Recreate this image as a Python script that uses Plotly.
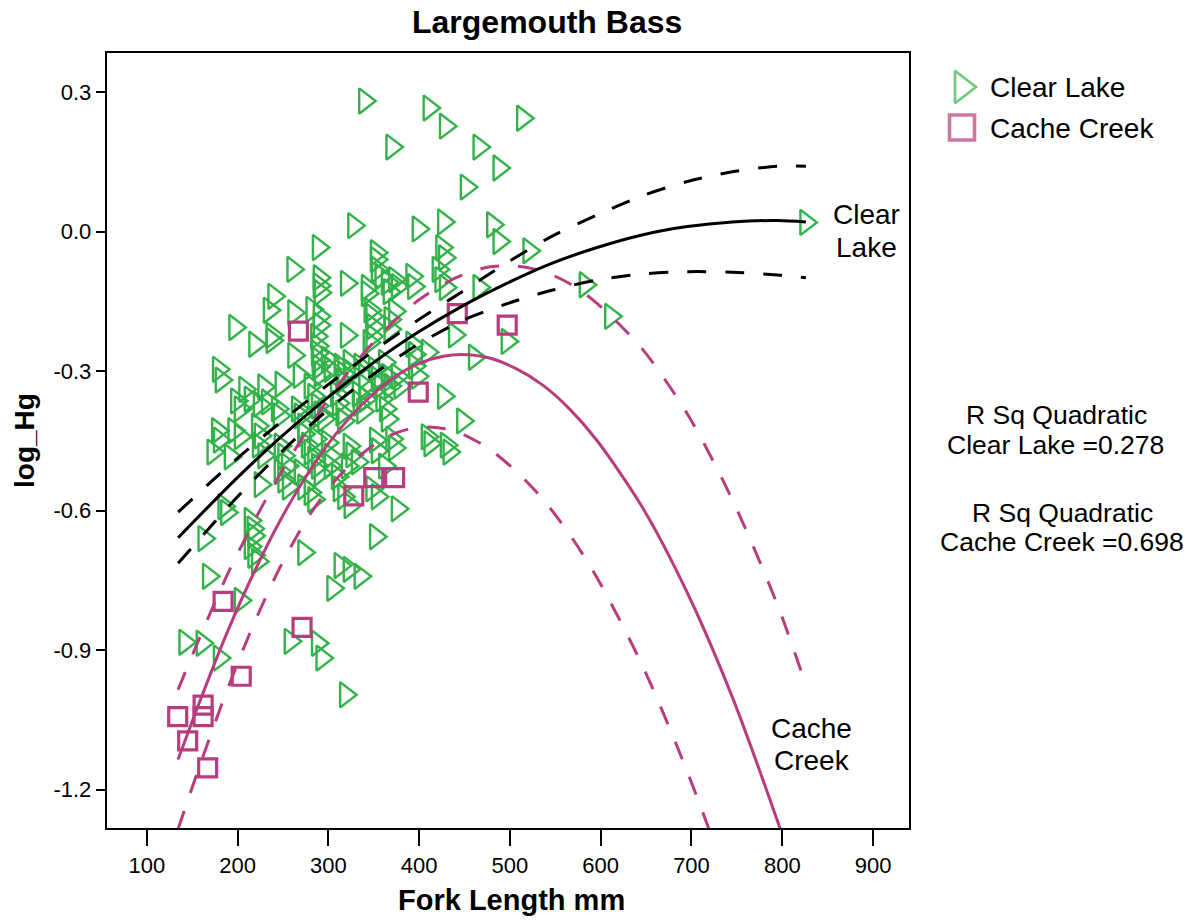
import plotly.graph_objects as go

W, H = 1195, 922

# ---------------- data ----------------
clear_lake_len = [
    340, 411, 429, 514, 370, 466, 488, 452, 328, 399, 427, 481, 488, 521, 289, 353, 353, 425, 428, 261, 583, 611,
    290, 290, 291, 320, 343, 343, 354, 358, 365, 367, 373, 376, 392, 394, 421, 424, 429, 466, 240,
    235, 262, 290, 290, 197, 238, 238, 219, 282, 346, 348, 349, 348, 368, 368, 373, 320, 287, 288, 439, 497, 392, 395, 409, 345,
    262, 288, 289, 289, 291, 179, 182, 268, 313, 317, 315, 335, 340, 340, 362, 365, 368, 299, 302, 323, 324, 351, 354, 357, 376, 379, 395, 398, 461, 208, 229, 233, 248,
    199, 203, 214, 224, 244, 246, 266, 269, 273, 288, 291, 295, 280, 284, 309, 311, 315, 317, 333, 334, 338, 359, 363, 365, 427, 341,
    178, 180, 196, 203, 222, 225, 223, 173, 192, 229, 247, 251, 255, 273, 277, 280, 284, 286, 299, 302, 302, 323, 326, 332, 321, 352, 354, 362, 370, 373, 409, 412, 430, 433, 448, 288, 291,
    247, 251, 256, 269, 273, 280, 284, 225, 310, 312, 317, 324, 348, 354, 376, 185, 188,
    163, 214, 217, 218, 214, 218, 222, 273, 313, 323, 335, 305, 352, 168,
    203, 142, 161, 180, 258, 288, 293, 319,
    826,
]
clear_lake_hg = [
    0.281, 0.266, 0.227, 0.244, 0.182, 0.182, 0.137, 0.096, 0.013, 0.006, 0.021, 0.015, -0.021, -0.041, -0.034, -0.045, -0.060, -0.034, -0.056, -0.081, -0.114, -0.182,
    -0.099, -0.116, -0.131, -0.111, -0.120, -0.133, -0.081, -0.096, -0.109, -0.129, -0.103, -0.118, -0.096, -0.118, -0.081, -0.103, -0.120, -0.120, -0.139,
    -0.169, -0.174, -0.182, -0.201, -0.206, -0.223, -0.234, -0.242, -0.167, -0.169, -0.182, -0.204, -0.225, -0.189, -0.210, -0.171, -0.223, -0.225, -0.246, -0.222, -0.236, -0.242, -0.264, -0.259, -0.238,
    -0.266, -0.261, -0.276, -0.291, -0.306, -0.296, -0.319, -0.309, -0.289, -0.306, -0.321, -0.289, -0.311, -0.332, -0.281, -0.311, -0.332, -0.274, -0.296, -0.281, -0.302, -0.296, -0.317, -0.332, -0.311, -0.332, -0.289, -0.311, -0.270, -0.339, -0.334, -0.366, -0.328,
    -0.364, -0.381, -0.360, -0.371, -0.381, -0.396, -0.381, -0.396, -0.418, -0.375, -0.392, -0.403, -0.332, -0.354, -0.349, -0.369, -0.390, -0.407, -0.349, -0.369, -0.386, -0.360, -0.381, -0.403, -0.354, -0.360,
    -0.428, -0.448, -0.428, -0.441, -0.418, -0.439, -0.459, -0.474, -0.484, -0.482, -0.461, -0.482, -0.504, -0.435, -0.459, -0.474, -0.489, -0.446, -0.454, -0.482, -0.504, -0.461, -0.480, -0.495, -0.504, -0.448, -0.471, -0.504, -0.446, -0.465, -0.441, -0.456, -0.459, -0.474, -0.407, -0.504, -0.519,
    -0.516, -0.534, -0.549, -0.516, -0.549, -0.561, -0.576, -0.544, -0.527, -0.553, -0.570, -0.589, -0.553, -0.570, -0.596, -0.591, -0.604,
    -0.660, -0.621, -0.639, -0.654, -0.677, -0.696, -0.709, -0.690, -0.718, -0.726, -0.741, -0.767, -0.656, -0.741,
    -0.793, -0.883, -0.885, -0.917, -0.881, -0.885, -0.917, -0.996,
    0.020,
]

cache_creek_len = [267, 442, 497, 399, 328, 350, 373, 184, 271, 204, 162, 134, 162, 145, 167]
cache_creek_hg = [-0.214, -0.176, -0.201, -0.345, -0.568, -0.529, -0.529, -0.795, -0.851, -0.956,
                  -1.018, -1.043, -1.043, -1.095, -1.153]

# quadratic fit curves and 95% mean confidence bands
cl_fit_x = [134.5, 197.5, 247, 297, 346.5, 396.5, 446.5, 496.5, 546, 596, 645.5, 695.5, 745, 795, 826]
cl_fit_y = [-0.658, -0.533, -0.443, -0.360, -0.286, -0.219, -0.161, -0.111, -0.068, -0.034, -0.007, 0.011, 0.021, 0.024, 0.021]
cl_upper = [-0.603, -0.491, -0.410, -0.333, -0.261, -0.193, -0.130, -0.067, -0.010, 0.036, 0.077, 0.108, 0.129, 0.141, 0.141]
cl_lower = [-0.713, -0.575, -0.476, -0.387, -0.311, -0.245, -0.192, -0.155, -0.126, -0.104, -0.091, -0.086, -0.087, -0.093, -0.099]

cc_fit_x = [134.4, 157.8, 187.6, 217.5, 247.2, 277.1, 307.0, 336.9, 366.8, 396.8, 426.6, 446.5,
            476.4, 506.3, 536.2, 566.1, 595.9, 645.7, 695.5, 745.2, 795.0, 826]
cc_fit_y = [-1.135, -1.013, -0.866, -0.735, -0.620, -0.521, -0.438, -0.372, -0.321, -0.286, -0.268, -0.264,
            -0.271, -0.294, -0.330, -0.382, -0.449, -0.592, -0.777, -1.002, -1.269, -1.448]
cc_upper = [-0.985, -0.875, -0.742, -0.625, -0.520, -0.426, -0.340, -0.266, -0.203, -0.151, -0.113, -0.094,
            -0.076, -0.074, -0.085, -0.112, -0.154, -0.252, -0.392, -0.577, -0.804, -0.975]
cc_lower = [-1.285, -1.151, -0.990, -0.845, -0.720, -0.616, -0.536, -0.478, -0.439, -0.421, -0.423, -0.434,
            -0.466, -0.514, -0.575, -0.652, -0.744, -0.932, -1.162, -1.427, -1.734, -1.938]

x_tick_vals = [100, 200, 300, 400, 500, 600, 700, 800, 900]
x_tick_text = ["100", "200", "300", "400", "500", "600", "700", "800", "900"]
y_tick_vals = [0.3, 0.0, -0.3, -0.6, -0.9, -1.2]
y_tick_text = ["0.3", "0.0", "-0.3", "-0.6", "-0.9", "-1.2"]

# ---------------- styling ----------------
GREEN = "#33B249"
MAGENTA = "#B83D7E"
FONT = "Liberation Sans, Arial, sans-serif"
DASH = "19px,19px"

fig = go.Figure()

fig.add_trace(go.Scatter(
    x=clear_lake_len, y=clear_lake_hg, mode="markers", name="Clear Lake",
    marker=dict(symbol="triangle-right-open", size=22, color=GREEN, line=dict(width=2.4, color=GREEN)),
))
fig.add_trace(go.Scatter(
    x=cache_creek_len, y=cache_creek_hg, mode="markers", name="Cache Creek",
    marker=dict(symbol="square-open", size=18, color=MAGENTA, line=dict(width=3.2, color=MAGENTA)),
))

for xs, ys, col, dash in [
    (cc_fit_x, cc_upper, MAGENTA, DASH),
    (cc_fit_x, cc_lower, MAGENTA, DASH),
    (cc_fit_x, cc_fit_y, MAGENTA, "solid"),
    (cl_fit_x, cl_upper, "black", DASH),
    (cl_fit_x, cl_lower, "black", DASH),
    (cl_fit_x, cl_fit_y, "black", "solid"),
]:
    fig.add_trace(go.Scatter(x=xs, y=ys, mode="lines",
                             line=dict(color=col, width=3, dash=dash, shape="spline", smoothing=0.8),
                             hoverinfo="skip"))

# legend drawn on an overlay axis measured in page pixels
fig.add_trace(go.Scatter(x=[962, 962], y=[87, 127.5], xaxis="x2", yaxis="y2", mode="markers",
                         marker=dict(symbol=["triangle-right-open", "square-open"], size=[28, 25],
                                     color=[GREEN, MAGENTA], line=dict(width=[2.6, 3.6], color=[GREEN, MAGENTA])),
                         hoverinfo="skip"))

def txt(x, y, s, size, bold=False, xanchor="center", angle=0):
    fig.add_annotation(x=x, y=y, xref="x2", yref="y2", text=("<b>%s</b>" % s) if bold else s,
                       showarrow=False, xanchor=xanchor, yanchor="middle", textangle=angle,
                       font=dict(family=FONT, size=size, color="black"))

txt(547, 22, "Largemouth Bass", 32, bold=True)
txt(511, 900, "Fork Length mm", 29, bold=True)
txt(24, 441, "log_Hg", 28, bold=True, angle=-90)
txt(988, 87, "Clear Lake", 28, xanchor="left")
txt(988, 128, "Cache Creek", 28, xanchor="left")
txt(866, 214, "Clear", 28)
txt(866, 247, "Lake", 28)
txt(811, 728, "Cache", 28)
txt(812, 760, "Creek", 28)
txt(1056, 415, "R Sq Quadratic", 26.5)
txt(1055, 445, "Clear Lake =0.278", 26.5)
txt(1062, 513, "R Sq Quadratic", 26.5)
txt(1062, 542, "Cache Creek =0.698", 26.5)

fig.update_layout(
    width=W, height=H, margin=dict(l=0, r=0, t=0, b=0),
    paper_bgcolor="white", plot_bgcolor="rgba(0,0,0,0)", showlegend=False,
    xaxis=dict(domain=[106.7 / W, 909 / W], range=[55.8, 939.6],
               tickvals=x_tick_vals, ticktext=x_tick_text,
               ticks="outside", ticklen=16, tickwidth=2, tickcolor="black",
               showline=True, linewidth=2, linecolor="black", mirror=True,
               showgrid=False, zeroline=False,
               tickfont=dict(family=FONT, size=22, color="black")),
    yaxis=dict(domain=[1 - 828.3 / H, 1 - 53.3 / H], range=[-1.283, 0.3837],
               tickvals=y_tick_vals, ticktext=y_tick_text,
               ticks="outside", ticklen=9, tickwidth=2, tickcolor="black",
               showline=True, linewidth=2, linecolor="black", mirror=True,
               showgrid=False, zeroline=False,
               tickfont=dict(family=FONT, size=22, color="black")),
    xaxis2=dict(domain=[0, 1], range=[0, W], visible=False, anchor="y2", fixedrange=True),
    yaxis2=dict(domain=[0, 1], range=[H, 0], visible=False, anchor="x2", fixedrange=True),
)

fig.write_html("out.html")
